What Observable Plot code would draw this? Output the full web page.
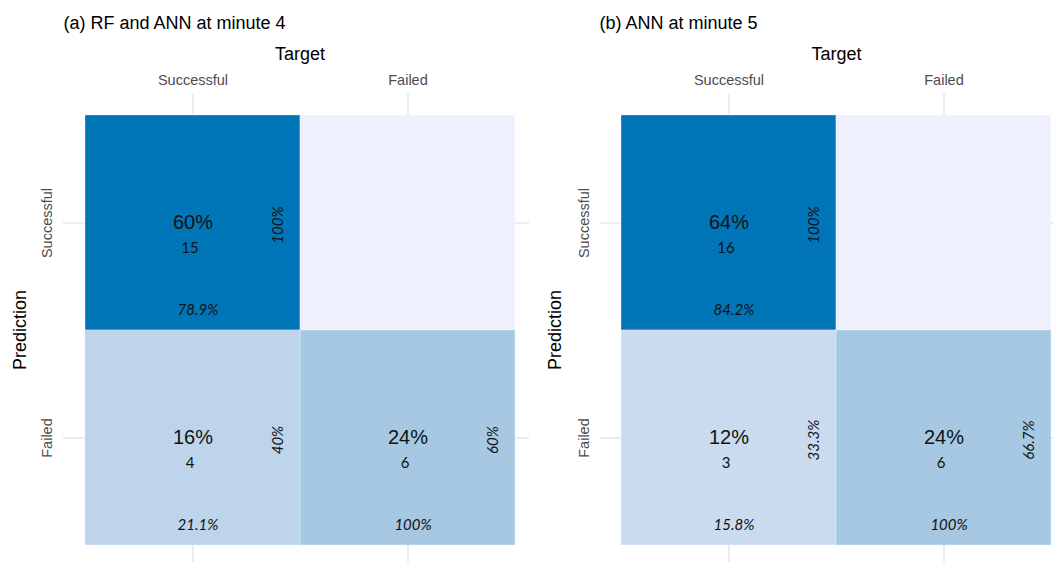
<!DOCTYPE html>
<html><head><meta charset="utf-8">
<script src="https://cdn.jsdelivr.net/npm/d3@7"></script>
<script src="https://cdn.jsdelivr.net/npm/@observablehq/plot@0.6"></script>
<style>
body{margin:0;background:#fff;}
#wrap{display:flex;width:1054px;height:562px;overflow:hidden;}
#wrap svg{overflow:visible;display:block;}
</style></head><body><div id="wrap"></div>
<script>
// Categories
const targets = ["Successful", "Failed"];
const predictions = ["Successful", "Failed"];
const panelTitles = ["(a) RF and ANN at minute 4", "(b) ANN at minute 5"];
// Counts: rows = prediction, columns = target
const countsA = [[15, 0], [4, 6]];
const countsB = [[16, 0], [3, 6]];
// Fill colour scale stops (count -> colour)
const colorDomain = [0, 3, 4, 6, 15];
const colorRange = ["#EEF1FD", "#CADBF0", "#BDD4EB", "#A7C8E2", "#0076B8"];

function fmt(v) {
  const p = Math.round(v * 1000) / 10;
  return (Number.isInteger(p) ? p.toFixed(0) : p.toFixed(1)) + "%";
}

function buildCells(counts) {
  const total = d3.sum(counts.flat());
  const cells = [];
  predictions.forEach((p, i) => {
    targets.forEach((t, j) => {
      const n = counts[i][j];
      const rowSum = d3.sum(counts[i]);
      const colSum = d3.sum(counts, r => r[j]);
      cells.push({
        prediction: p, target: t, n,
        pct: fmt(n / total),
        colPct: fmt(n / colSum),
        rowPct: fmt(n / rowSum)
      });
    });
  });
  return cells;
}

function panel(title, counts, o) {
  const cells = buildCells(counts);
  const shown = cells.filter(d => d.n > 0);
  const grid = {stroke: "#e6e6e6", strokeWidth: 1.5, strokeOpacity: 1};
  const calibri = "Lato, 'Open Sans', sans-serif";
  return Plot.plot({
    width: o.width, height: 562,
    marginLeft: o.ml, marginRight: o.mr, marginTop: 114, marginBottom: 17,
    x: {type: "band", domain: targets, padding: 0, axis: null},
    y: {type: "band", domain: predictions, padding: 0, axis: null},
    color: {type: "linear", domain: colorDomain, range: colorRange, clamp: true},
    style: {fontFamily: "'Liberation Sans', Arial, sans-serif", background: "transparent", overflow: "visible"},
    marks: [
      Plot.gridX(targets, {...grid, insetTop: -21, insetBottom: -20}),
      Plot.gridY(predictions, {...grid, insetLeft: -21, insetRight: -o.gridRight}),
      Plot.cell(cells, {x: "target", y: "prediction", fill: "n", stroke: "#fff", strokeOpacity: 0.3, strokeWidth: 1}),
      // main percentage
      Plot.text(shown, {x: "target", y: "prediction", text: "pct", fontSize: 20, fill: "#111"}),
      // count
      Plot.text(shown, {x: "target", y: "prediction", text: d => String(d.n), dx: -3, dy: 25,
        fontSize: 15, fill: "#111", fontFamily: calibri}),
      // column percentage (bottom)
      Plot.text(shown, {x: "target", y: "prediction", text: "colPct", dx: 5, dy: 87,
        fontSize: 15, fontStyle: "italic", fill: "#111", fontFamily: calibri}),
      // row percentage (right, rotated)
      Plot.text(shown, {x: "target", y: "prediction", text: "rowPct", dx: 85, dy: 2, rotate: -90,
        fontSize: 15, fontStyle: "italic", fill: "#111", fontFamily: calibri}),
      // axis tick labels
      Plot.text(targets, {x: d => d, text: d => d, frameAnchor: "top", lineAnchor: "middle", dy: -34, fontSize: 14.5, fill: "#4d4d4d"}),
      Plot.text(predictions, {y: d => d, text: d => d, frameAnchor: "left", lineAnchor: "middle", textAnchor: "middle", dx: o.tickDx, rotate: -90, fontSize: 14.5, fill: "#4d4d4d"}),
      // axis titles
      Plot.text(["Target"], {frameAnchor: "top", lineAnchor: "middle", dy: -60, fontSize: 18, fill: "#000"}),
      Plot.text(["Prediction"], {frameAnchor: "left", lineAnchor: "middle", textAnchor: "middle", dx: o.predDx, rotate: -90, fontSize: 18, fill: "#000"}),
      // panel title
      Plot.text([title], {frameAnchor: "top-left", lineAnchor: "middle", dx: o.titleDx, dy: -91, textAnchor: "start", fontSize: 18, fill: "#000"})
    ]
  });
}

const wrap = document.getElementById("wrap");
wrap.appendChild(panel(panelTitles[0], countsA, {width: 529, ml: 84, mr: 14, gridRight: 14, tickDx: -37, predDx: -64, titleDx: -21}));
wrap.appendChild(panel(panelTitles[1], countsB, {width: 525, ml: 92, mr: 3, gridRight: 3, tickDx: -37, predDx: -66, titleDx: -22}));
</script>
</body></html>
